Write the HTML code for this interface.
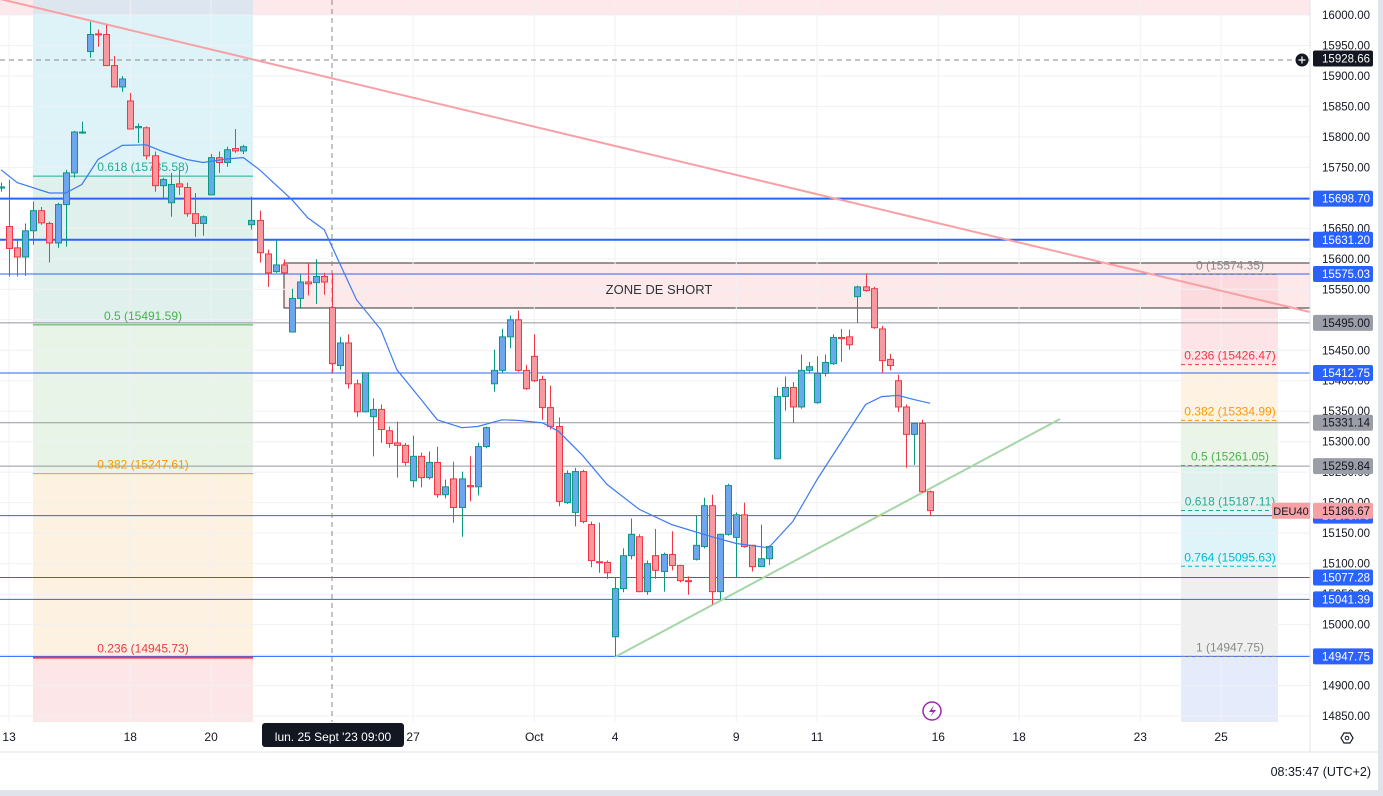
<!DOCTYPE html>
<html><head><meta charset="utf-8"><style>
html,body{margin:0;padding:0;background:#fff;width:1383px;height:796px;overflow:hidden}
svg{display:block;font-family:"Liberation Sans",sans-serif}
</style></head><body>
<svg id="c" width="1383" height="796" xmlns="http://www.w3.org/2000/svg"></svg>
<script>
// ---- data ----
const opens=[15716,15653,15618,15603,15646,15679,15658,15626,15689,15741,15807,15940,15969,15968,15917,15882,15859,15815,15815,15769,15720,15692,15723,15717,15674,15658,15705,15766,15758,15781,15777,15656,15663,15608,15579,15590,15480,15535,15562,15561,15571,15520,15425,15462,15395,15349,15341,15353,15318,15298,15294,15236,15276,15241,15266,15213,15239,15192,15228,15226,15292,15395,15417,15472,15500,15417,15440,15402,15356,15325,15200,15184,15251,15164,15103,15102,14980,15059,15113,15144,15054,15113,15087,15115,15097,15072,15107,15128,15195,15054,15148,15143,15180,15130,15095,15108,15272,15374,15389,15357,15417,15364,15412,15428,15471,15472,15538,15554,15551,15485,15435,15400,15357,15312,15330,15218];
const highs=[15725,15730,15631,15658,15694,15685,15661,15692,15746,15810,15825,15989,15976,15984,15933,15900,15872,15822,15817,15776,15733,15741,15745,15725,15708,15671,15772,15776,15784,15813,15787,15702,15679,15615,15631,15599,15551,15574,15592,15599,15577,15577,15472,15476,15402,15413,15371,15361,15325,15333,15298,15310,15282,15284,15292,15238,15267,15251,15276,15298,15325,15451,15485,15507,15515,15426,15476,15408,15392,15340,15253,15257,15254,15169,15167,15105,15077,15125,15174,15148,15105,15157,15118,15153,15098,15079,15179,15208,15213,15149,15231,15184,15200,15131,15164,15130,15389,15407,15398,15443,15431,15440,15443,15476,15485,15484,15556,15576,15554,15490,15444,15410,15361,15331,15336,15220];
const lows=[15710,15571,15571,15572,15623,15656,15594,15618,15620,15733,15805,15930,15948,15917,15882,15874,15813,15790,15763,15710,15699,15669,15705,15669,15636,15638,15704,15741,15751,15774,15772,15648,15594,15554,15577,15576,15479,15520,15540,15526,15541,15413,15418,15387,15341,15348,15276,15298,15290,15241,15261,15225,15225,15238,15208,15207,15167,15144,15202,15212,15289,15382,15413,15453,15415,15385,15398,15336,15320,15194,15198,15161,15166,15094,15085,15075,14948,15053,15107,15053,15049,15075,15054,15089,15069,15049,15105,15125,15033,15041,15146,15077,15126,15087,15095,15098,15271,15351,15331,15354,15412,15362,15407,15426,15431,15451,15495,15546,15485,15413,15417,15349,15257,15262,15216,15179];
const closes=[15718,15617,15603,15646,15679,15659,15626,15689,15741,15808,15808,15968,15968,15917,15882,15895,15813,15817,15769,15720,15730,15722,15718,15674,15658,15669,15766,15758,15779,15777,15784,15663,15610,15577,15590,15577,15535,15562,15559,15571,15562,15428,15462,15395,15349,15413,15353,15320,15297,15294,15266,15276,15241,15266,15213,15226,15192,15239,15226,15292,15323,15417,15472,15500,15417,15387,15400,15356,15325,15202,15248,15251,15169,15105,15102,15085,15059,15113,15148,15054,15100,15089,15115,15097,15072,15071,15130,15195,15054,15148,15228,15180,15128,15095,15108,15128,15374,15389,15357,15417,15423,15412,15430,15471,15469,15459,15554,15548,15487,15433,15425,15357,15312,15330,15218,15187];
const maIdx=[0,2,6,8,10,12,15,18,20,23,25,28,30,32,36,38,40,42,44,47,49,52,54,57,59,62,64,67,69,72,75,79,83,85,88,91,95,98,101,105,107,109,111,113,115];
const maVal=[15746,15725,15708,15708,15722,15763,15786,15787,15776,15763,15758,15764,15766,15746,15697,15667,15648,15590,15533,15484,15418,15369,15336,15323,15325,15336,15335,15331,15317,15277,15230,15189,15164,15156,15144,15133,15126,15169,15238,15320,15361,15374,15376,15369,15363];
const yTicks=[16000,15950,15900,15850,15800,15750,15700,15650,15600,15550,15500,15450,15400,15350,15300,15250,15200,15150,15100,15050,15000,14950,14900,14850];
const dateLabels=["13","18","20","27","Oct","4","9","11","16","18","23","25"];
const dateIdx=[1,16,26,51,66,76,91,101,116,126,141,151];
const hLevels=[15698.70,15631.20,15575.03,15495.00,15412.75,15331.14,15259.84,15178.70,15077.28,15041.39,14947.75];
const hKinds=["b2","b2","b","g","b","g","g","b","b","b","b"];
const fibL=[0.618,0.5,0.382,0.236];
const fibLVal=[15735.58,15491.59,15247.61,14945.73];
const fibR=[0,0.236,0.382,0.5,0.618,0.764,1];
const fibRVal=[15574.35,15426.47,15334.99,15261.05,15187.11,15095.63,14947.75];

// ---- scales ----
const PW=1310, PB=722;
const y=p=>15+(16000-p)*701/1150;
const x=i=>1+i*8.08;
const S=document.getElementById('c');
const NS='http://www.w3.org/2000/svg';
function mk(t,a,p){const e=document.createElementNS(NS,t);for(const k in a)e.setAttribute(k,a[k]);(p||S).appendChild(e);return e;}

// backgrounds
let r=mk('rect',{x:0,y:0,width:1383,height:796,fill:'#fff'});

r=mk('rect',{x:0,y:0,width:PW,height:15,fill:'#fde8ec'});

// left fib box
const lfC=['#ddf3f8','#e0f0ed','#e9f4e8','#fdf1e1','#fde6e8'];
const lfB=[0,y(15735.58),y(15491.59),y(15247.61),y(14945.73),PB];
for(let k=0;k<5;k++){r=mk('rect',{x:33,y:lfB[k],width:220,height:lfB[k+1]-lfB[k],fill:lfC[k]});
}
mk('rect',{x:33,y:0,width:220,height:15,fill:'#dde6ee'});
// right fib box
const rfC=['#fde4e6','#fef2e3','#eaf5e8','#e1f2ee','#def4f8','#efefef','#e6ebfc'];
const rfB=fibRVal.map(y).concat([PB]);
for(let k=0;k<7;k++){r=mk('rect',{x:1181,y:rfB[k],width:97,height:rfB[k+1]-rfB[k],fill:rfC[k]});
}
// short zone
r=mk('rect',{x:284,y:263,width:1026,height:45,fill:'rgba(252,210,214,0.5)'});

mk('path',{d:'M1310 263H284V308H1310',stroke:'#333',fill:'none','stroke-width':1});
// grid
for(const t of yTicks){mk('line',{x1:0,x2:PW,y1:y(t),y2:y(t),stroke:'#f0f1f4'});}
for(const d of dateIdx){mk('line',{x1:x(d),x2:x(d),y1:0,y2:PB,stroke:'#f0f1f4'});}
// horizontal levels
hLevels.forEach((v,k)=>{const c=hKinds[k]=='g'?'#9598a1':'#2962ff';
 const l=mk('line',{x1:0,x2:PW,y1:y(v),y2:y(v),stroke:c,'stroke-width':hKinds[k]=='b2'?2:1});
 });
// fib lines left
const lfCol=['#22ab94','#4caf50','#ff9800','#f23645'];
fibL.forEach((f,k)=>{const yy=y(fibLVal[k]);
 mk('line',{x1:33,x2:253,y1:yy,y2:yy,stroke:lfCol[k],'stroke-width':k==3?2:1});
 const t=mk('text',{x:143,y:yy-5,'text-anchor':'middle','font-size':12,fill:lfCol[k]});
 t.textContent=f+' ('+fibLVal[k].toFixed(2)+')';
 });
// fib right
const rfCol=['#888','#f23645','#ff9800','#4caf50','#22ab94','#00bcd4','#888'];
fibR.forEach((f,k)=>{const yy=y(fibRVal[k]);
 mk('line',{x1:1181,x2:1278,y1:yy,y2:yy,stroke:rfCol[k],'stroke-dasharray':'4 3'});
 const t=mk('text',{x:1230,y:yy-5,'text-anchor':'middle','font-size':12,fill:rfCol[k]});
 t.textContent=f+' ('+fibRVal[k].toFixed(2)+')';
 });
// zone text
let zt=mk('text',{x:659,y:294,'text-anchor':'middle','font-size':13,fill:'#333'});zt.textContent='ZONE DE SHORT';

// crosshair
mk('line',{x1:0,x2:PW,y1:60,y2:60,stroke:'#888','stroke-dasharray':'5 4'});
mk('line',{x1:332,x2:332,y1:0,y2:PB,stroke:'#888','stroke-dasharray':'5 4'});
// trendlines
let tl=mk('line',{x1:0,y1:-1,x2:PW,y2:312,stroke:'#f7a1a6','stroke-width':2});

tl=mk('line',{x1:615,y1:657,x2:1060,y2:419,stroke:'#a5d6a7','stroke-width':2});

// candles
for(let i=0;i<opens.length;i++){
 const up=closes[i]>=opens[i];const sc=up?'#089981':'#f23645';const fc=up?'#6ca6ee':'#f7999e';
 const g=mk('g',{});
 
 const cx=Math.round(x(i))+0.5;
 mk('line',{x1:cx,x2:cx,y1:y(highs[i]),y2:y(lows[i]),stroke:sc},g);
 const t=y(Math.max(opens[i],closes[i])),b=y(Math.min(opens[i],closes[i]));
 mk('rect',{x:cx-3,y:t,width:6,height:Math.max(1,b-t),fill:fc,stroke:sc,'stroke-width':1},g);
}
// MA
let d='';maIdx.forEach((ix,k)=>{d+=(k?'L':'M')+x(ix).toFixed(1)+' '+y(maVal[k]).toFixed(1);});
let ma=mk('path',{d:d,stroke:'#3d7bf0',fill:'none','stroke-width':1.2});

// price axis
mk('rect',{x:PW,y:0,width:73,height:796,fill:'#fff'});
mk('line',{x1:PW,x2:PW,y1:0,y2:752,stroke:'#e0e3eb'});
for(const t of yTicks){const tx=mk('text',{x:1370,y:y(t)+4,'text-anchor':'end','font-size':11.5,fill:'#131722'});tx.textContent=t.toFixed(2);
 }
function tag(v,bg,fg,name){const yy=y(v);mk('rect',{x:1313,y:yy-8,width:60,height:16,rx:2,fill:bg});
 const t=mk('text',{x:1370,y:yy+4,'text-anchor':'end','font-size':11.5,fill:fg});t.textContent=v.toFixed(2);
 }
hLevels.forEach((v,k)=>tag(v,hKinds[k]=='g'?'#9b9ea6':'#2962ff',hKinds[k]=='g'?'#131722':'#fff','level-price-tag'));
tag(15928.66,'#131722','#fff','crosshair-price-tag');
tag(15186.67,'#f7a1a6','#131722','last-price-tag');
let dl=mk('rect',{x:1272,y:y(15186.67)-8,width:38,height:16,fill:'#f7a1a6'});
let dt=mk('text',{x:1291,y:y(15186.67)+4,'text-anchor':'middle','font-size':11,fill:'#131722'});dt.textContent='DEU40';

let pc=mk('circle',{cx:1302,cy:60,r:6.5,fill:'#131722'});

mk('path',{d:'M1298.5 60H1305.5M1302 56.5V63.5',stroke:'#fff','stroke-width':1.2});
// time axis
mk('line',{x1:0,x2:1378,y1:752,y2:752,stroke:'#e0e3eb'});
dateLabels.forEach((s,k)=>{const t=mk('text',{x:x(dateIdx[k]),y:741,'text-anchor':'middle','font-size':12,fill:'#131722'});t.textContent=s;
 });
mk('rect',{x:262,y:723,width:142,height:24,rx:3,fill:'#131722'});
let ct=mk('text',{x:333,y:741,'text-anchor':'middle','font-size':12,fill:'#fff'});ct.textContent="lun. 25 Sept '23   09:00";

let gear=mk('path',{d:'M1341 738L1344 733H1350L1353 738L1350 743H1344Z',fill:'none',stroke:'#131722','stroke-width':1.2});

mk('circle',{cx:1347,cy:738,r:1.8,fill:'none',stroke:'#131722'});
let li=mk('circle',{cx:932,cy:711,r:9,fill:'#fff',stroke:'#9c27b0','stroke-width':1.5});

mk('path',{d:'M934 705L929 712H933L930 717L936 710H932Z',fill:'#9c27b0'});
let clk=mk('text',{x:1371,y:776,'text-anchor':'end','font-size':12.5,fill:'#131722'});clk.textContent='08:35:47 (UTC+2)';

mk('rect',{x:1378,y:0,width:5,height:796,fill:'#e0e3eb'});
mk('rect',{x:0,y:790,width:1383,height:6,fill:'#e0e3eb'});
</script>
</body></html>
